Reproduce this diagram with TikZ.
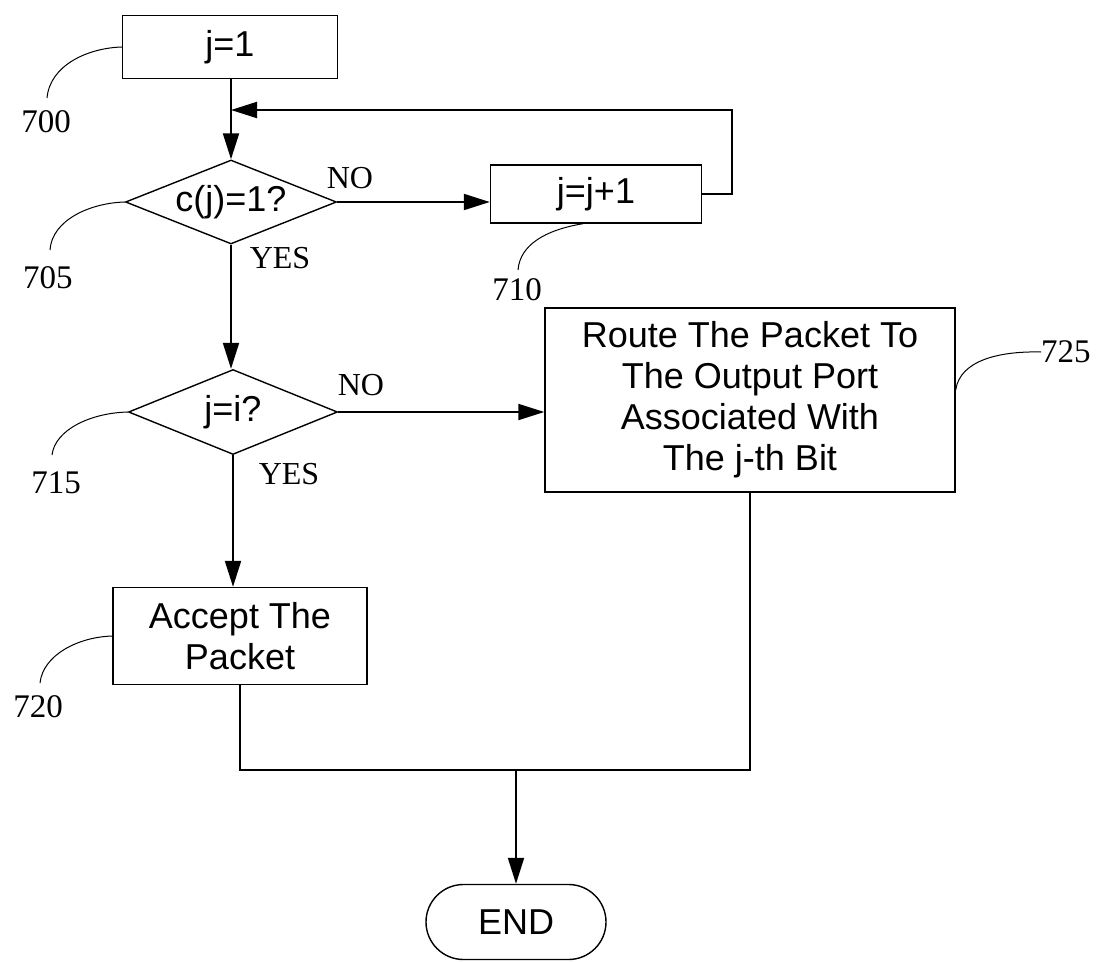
\documentclass[tikz,border=0pt]{standalone}
\usepackage{fontspec}
\setmainfont{Liberation Serif}
\setsansfont{Liberation Sans}
\usetikzlibrary{shapes.geometric,shapes.misc,arrows.meta,calc}
\begin{document}
\begin{tikzpicture}[x=1pt,y=-1pt,
  box/.style={draw,line width=1.4pt,inner sep=0pt,font=\sffamily\fontsize{36}{41}\selectfont,align=center},
  dia/.style={draw,diamond,line width=1.4pt,inner sep=0pt,font=\sffamily\fontsize{36}{41}\selectfont},
  conn/.style={line width=2pt},
  arr/.style={conn,-{Triangle[length=26pt,width=16pt]}},
  refl/.style={font=\fontsize{33}{36}\selectfont,inner sep=0pt},
  lead/.style={line width=1pt},
  yn/.style={font=\fontsize{32}{36}\selectfont,inner sep=0pt}]
\useasboundingbox (0,0) rectangle (1105,963);
% nodes
\node[box,minimum width=215pt,minimum height=63pt] (j1) at (230,47) {j=1};
\node[dia,minimum width=211pt,minimum height=84pt] (d1) at (231,202) {\makebox[0pt]{c(j)=1?}};
\node[box,minimum width=211pt,minimum height=58pt] (jp) at (596,194) {j=j+1};
\node[dia,minimum width=209pt,minimum height=85pt] (d2) at (233,412) {\makebox[0pt]{j=i?}};
\node[box,minimum width=410pt,minimum height=184pt] (rt) at (750,400) {Route The Packet To\\The Output Port\\Associated With\\The j-th Bit};
\node[box,minimum width=254pt,minimum height=97pt] (acc) at (240,636) {Accept The\\Packet};
\node[box,rounded rectangle,minimum width=180pt,minimum height=75pt] (end) at (516,922) {END};
% coordinates
\coordinate (lp) at (231,110);
\coordinate (merge) at (516,770);
% connectors
\draw[arr] (j1.south -| d1.north) -- (d1.north);
\draw[arr] (d1.east) -- (d1.east -| jp.west);
\draw[arr] (jp.east) -- ++(30,0) |- (lp);
\draw[arr] (d1.south) -- (d1.south |- d2.north);
\draw[arr] (d2.east) -- (d2.east -| rt.west);
\draw[arr] (d2.south) -- (d2.south |- acc.north);
\draw[conn] (acc.south) |- (merge) -| (rt.south);
\draw[arr] (merge) -- (end.north);
% branch labels
\node[yn] (no1) at (350,178) {NO};
\node[yn] (yes1) at (280,258) {YES};
\node[yn] (no2) at (361,385) {NO};
\node[yn] (yes2) at (289,474) {YES};
% reference numerals
\node[refl] (r700) at (46,122) {700};
\node[refl] (r705) at (48,278) {705};
\node[refl] (r710) at (517,290) {710};
\node[refl] (r715) at (56,483) {715};
\node[refl] (r720) at (38,707) {720};
\node[refl,anchor=west] (r725) at (1041,352) {725};
\draw[lead] (j1.west) .. controls (88,48) and (50,65) .. (47,98);
\draw[lead] (d1.west) .. controls (90,203) and (52,220) .. (50,250);
\draw[lead] ($(jp.south)+(-13,0)$) .. controls (545,230) and (520,245) .. (518,270);
\draw[lead] (d2.west) .. controls (90,413) and (55,430) .. (52,455);
\draw[lead] (acc.west) .. controls (78,637) and (43,655) .. (40,683);
\draw[lead] ($(rt.east)+(0,-10)$) .. controls (960,360) and (1000,351) .. (r725.west);
\end{tikzpicture}
\end{document}
